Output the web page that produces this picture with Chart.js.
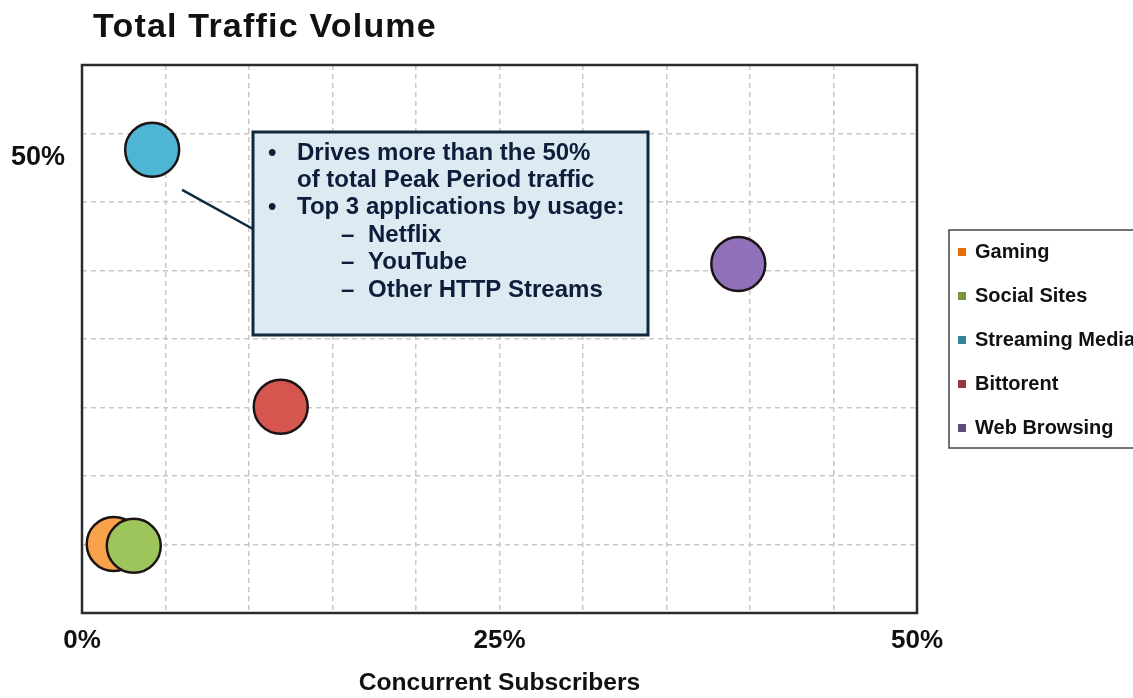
<!DOCTYPE html>
<html><head><meta charset="utf-8">
<script src="https://cdn.jsdelivr.net/npm/chart.js@4.4.0/dist/chart.umd.min.js"></script>
<style>html,body{margin:0;padding:0;background:#fff;}#wrap{position:relative;width:1133px;height:698px;}</style>
</head><body><div id="wrap"><canvas id="c" width="1133" height="698"></canvas></div>
<script>
const categories = ['Gaming', 'Social Sites', 'Streaming Media', 'Bittorent', 'Web Browsing'];
const subscribersPct = [1.9, 3.1, 4.2, 11.9, 39.3];
const trafficPct = [7.2, 7.0, 48.3, 21.5, 36.4];
const bubbleRadius = [27, 27, 27, 27, 27];
const xTickLabels = ['0%', '25%', '50%'];
const xTickValues = [0, 25, 50];
const yTickLabels = ['50%'];
const yTickValues = [50];
const chartTitle = 'Total Traffic Volume';
const xAxisTitle = 'Concurrent Subscribers';
const noteLines = ['Drives more than the 50%', 'of total Peak Period traffic', 'Top 3 applications by usage:', 'Netflix', 'YouTube', 'Other HTTP Streams'];
const noteMarks = ['•', '', '•', '–', '–', '–'];

const fillColors = ['#F9A24C', '#9EC45C', '#4FB5D4', '#D5564F', '#9171B9'];
const markerColors = ['#E46C0A', '#77933C', '#31859C', '#953735', '#604A7B'];
const FONT = '"Liberation Sans", Arial, sans-serif';
const Y_MAX = 400 / 7, Y_STEP = 50 / 7;

const datasets = categories.map((name, i) => ({
  label: name,
  data: [{x: subscribersPct[i], y: trafficPct[i], r: bubbleRadius[i]}],
  backgroundColor: fillColors[i],
  borderColor: '#1c1414',
  borderWidth: 2.5,
  hoverRadius: 0,
  order: i === 0 ? 5 : i
}));

const decor = {
  id: 'decor',
  beforeDatasetsDraw(chart) {
    const {ctx, chartArea: a} = chart;
    ctx.save();
    ctx.strokeStyle = '#2a2a2a';
    ctx.lineWidth = 2.5;
    ctx.strokeRect(a.left, a.top, a.right - a.left, a.bottom - a.top);
    ctx.restore();
  },
  afterDatasetsDraw(chart) {
    const {ctx, scales} = chart;
    ctx.save();
    ctx.fillStyle = '#111';
    ctx.font = 'bold 34px ' + FONT;
    ctx.textBaseline = 'alphabetic';
    ctx.textAlign = 'left';
    if ('letterSpacing' in ctx) ctx.letterSpacing = '1.2px';
    ctx.fillText(chartTitle, 93, 37);
    if ('letterSpacing' in ctx) ctx.letterSpacing = '0px';

    const sx = scales.x.getPixelForValue(subscribersPct[2]);
    const sy = scales.y.getPixelForValue(trafficPct[2]);
    const bx = 253, by = 132, bw = 395, bh = 203;
    ctx.strokeStyle = '#0e2a3c';
    ctx.lineWidth = 2.5;
    ctx.beginPath();
    ctx.moveTo(sx + 30, sy + 40);
    ctx.lineTo(bx, by + 97);
    ctx.stroke();

    ctx.fillStyle = '#DCEAF1';
    ctx.fillRect(bx, by, bw, bh);
    ctx.lineWidth = 3;
    ctx.strokeStyle = '#0e2a3c';
    ctx.strokeRect(bx, by, bw, bh);
    ctx.fillStyle = '#0f1c3a';
    ctx.font = 'bold 24px ' + FONT;
    ctx.textBaseline = 'middle';
    noteLines.forEach((t, i) => {
      const y = 153 + i * 27.4;
      const m = noteMarks[i];
      if (m === '•') { ctx.fillText('•', 268, y); ctx.fillText(t, 297, y); }
      else if (m === '–') { ctx.fillText('–', 341, y); ctx.fillText(t, 368, y); }
      else ctx.fillText(t, 297, y);
    });

    const lx = 949, ly = 230, lw = 200, lh = 218;
    ctx.fillStyle = '#fff';
    ctx.fillRect(lx, ly, lw, lh);
    ctx.strokeStyle = '#444';
    ctx.lineWidth = 1.5;
    ctx.strokeRect(lx, ly, lw, lh);
    ctx.font = 'bold 20px ' + FONT;
    categories.forEach((name, i) => {
      const y = 252 + i * 44;
      ctx.fillStyle = markerColors[i];
      ctx.fillRect(958, y - 4, 8, 8);
      ctx.fillStyle = '#111';
      ctx.fillText(name, 975, y);
    });
    ctx.restore();
  }
};

new Chart(document.getElementById('c'), {
  type: 'bubble',
  data: {datasets},
  plugins: [decor],
  options: {
    responsive: false,
    animation: false,
    devicePixelRatio: 1,
    layout: {padding: {left: 0, right: 216, top: 65, bottom: 0}},
    plugins: {legend: {display: false}, title: {display: false}, tooltip: {enabled: false}},
    scales: {
      x: {
        type: 'linear', min: 0, max: 50,
        afterBuildTicks(s) { s.ticks = Array.from({length: 11}, (_, i) => ({value: i * 5})); },
        afterFit(s) { s.height = 85; },
        border: {display: false, dash: [5, 4]},
        grid: {color: '#c8c8c8', lineWidth: 1.5, drawTicks: false},
        ticks: {
          autoSkip: false, maxRotation: 0, padding: 12, color: '#111',
          font: {family: FONT, size: 26, weight: 'bold'},
          callback(v) { const k = xTickValues.indexOf(v); return k >= 0 ? xTickLabels[k] : ''; }
        },
        title: {display: true, text: xAxisTitle, color: '#111', font: {family: FONT, size: 24.6, weight: 'bold'}, padding: {top: 0, bottom: 0}}
      },
      y: {
        type: 'linear', min: 0, max: Y_MAX,
        afterBuildTicks(s) { s.ticks = Array.from({length: 9}, (_, i) => ({value: i * Y_STEP})); },
        afterFit(s) { s.width = 82; },
        border: {display: false, dash: [5, 4]},
        grid: {color: '#c8c8c8', lineWidth: 1.5, drawTicks: false},
        ticks: {
          autoSkip: false, padding: 17, labelOffset: 24, color: '#111',
          font: {family: FONT, size: 27, weight: 'bold'},
          callback(v) { const k = yTickValues.findIndex(t => Math.abs(t - v) < 0.01); return k >= 0 ? yTickLabels[k] : ''; }
        }
      }
    }
  }
});
</script>
</body></html>
